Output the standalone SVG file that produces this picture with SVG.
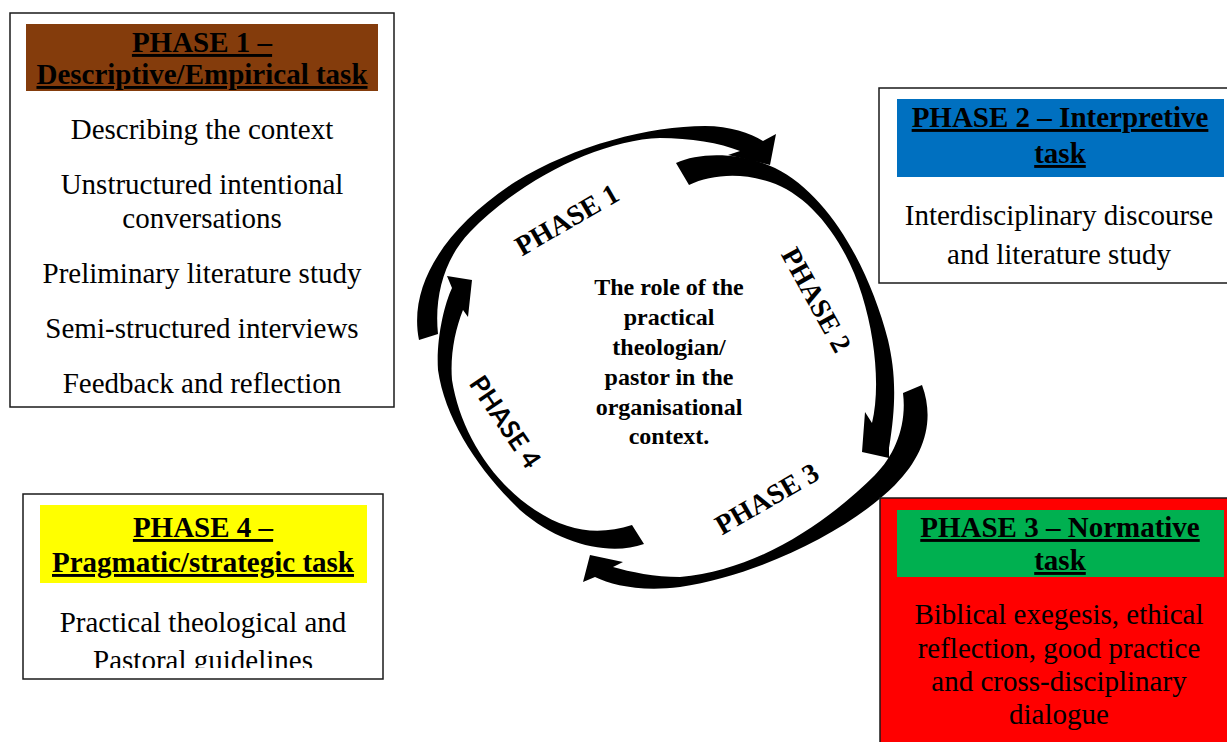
<svg xmlns="http://www.w3.org/2000/svg" width="1227" height="742" viewBox="0 0 1227 742">
  <style>
    .box { fill: #ffffff; stroke: #1a1a1a; stroke-width: 1.5; }
    .head { font-family: "Liberation Serif", "Times New Roman", serif; font-size: 29px; font-weight: bold; text-decoration: underline; fill: #000; text-anchor: middle; }
    .body { font-family: "Liberation Serif", "Times New Roman", serif; font-size: 29px; fill: #000; text-anchor: middle; }
    .center { font-family: "Liberation Serif", "Times New Roman", serif; font-size: 24px; font-weight: bold; fill: #000; text-anchor: middle; }
    .phase { font-family: "Liberation Serif", "Times New Roman", serif; font-size: 28px; font-weight: bold; fill: #000; text-anchor: middle; }
    .phase-sans { font-family: Lato, "Open Sans", sans-serif; font-size: 26px; font-weight: bold; fill: #000; text-anchor: middle; }
    .arrow { fill: #000; stroke: none; }
  </style>
  <defs>
    <clipPath id="clip-phase4">
      <rect x="23" y="494" width="361" height="174"/>
    </clipPath>
  </defs>

  <rect width="1227" height="742" fill="#ffffff"/>

  <!-- Curved arrows forming the cycle -->
  <g id="connectors">
    <path id="arrow-phase1" class="arrow" d="M 419 340 C 408 285, 445 228, 515 182 C 575 145, 650 126, 705 126 C 730 126, 750 133, 763 141 L 776 134 L 770 165 L 728 155 L 740 151 C 720 143, 690 138, 660 138 C 600 140, 520 180, 470 232 C 445 258, 434 295, 438 334 Z"/>
    <path id="arrow-phase2" class="arrow" d="M 676 163 C 700 152, 740 152, 775 168 C 830 195, 870 270, 888 340 C 895 370, 897 400, 889 448 L 889 458 L 862 452 L 865 412 L 872 423 C 880 390, 876 340, 862 295 C 845 240, 810 195, 770 182 C 740 172, 710 175, 689 185 Z"/>
    <path id="arrow-phase3" class="arrow" d="M 903 393 L 922 385 C 935 420, 925 455, 895 485 C 850 530, 760 575, 680 587 C 640 592, 612 585, 595 577 L 583 582 L 590 555 L 623 562 L 613 567 C 630 572, 655 577, 680 577 C 760 570, 830 520, 875 475 C 895 455, 907 425, 903 393 Z"/>
    <path id="arrow-phase4" class="arrow" d="M 632 525 L 644 544 C 610 556, 560 545, 520 510 C 480 472, 445 420, 438 370 C 436 340, 444 305, 452 288 L 447 276 L 472 280 L 468 317 L 463 310 C 455 330, 450 355, 452 380 C 460 430, 490 480, 535 510 C 570 533, 600 535, 632 525 Z"/>

    <text class="phase" transform="translate(567,220) rotate(-30)" x="0" y="9">PHASE 1</text>
    <text class="phase" transform="translate(816,300) rotate(61)" x="0" y="9">PHASE 2</text>
    <text class="phase" transform="translate(767,499) rotate(-30)" x="0" y="9">PHASE 3</text>
    <text class="phase-sans" transform="translate(505,422) rotate(56)" x="0" y="9">PHASE 4</text>
  </g>

  <!-- Centre of the cycle -->
  <g id="node-center">
    <text class="center" x="669" y="295">The role of the</text>
    <text class="center" x="669" y="325">practical</text>
    <text class="center" x="669" y="355">theologian/</text>
    <text class="center" x="669" y="385">pastor in the</text>
    <text class="center" x="669" y="415">organisational</text>
    <text class="center" x="669" y="444">context.</text>
  </g>

  <!-- Phase 1 -->
  <g id="node-phase1">
    <rect class="box" x="10" y="13" width="384" height="394"/>
    <rect x="26" y="24" width="352" height="67" fill="#843C0C"/>
    <text class="head" x="202" y="52">PHASE 1 –</text>
    <text class="head" x="202" y="84">Descriptive/Empirical task</text>
    <text class="body" x="202" y="139">Describing the context</text>
    <text class="body" x="202" y="194">Unstructured intentional</text>
    <text class="body" x="202" y="228">conversations</text>
    <text class="body" x="202" y="283">Preliminary literature study</text>
    <text class="body" x="202" y="338">Semi-structured interviews</text>
    <text class="body" x="202" y="393">Feedback and reflection</text>
  </g>

  <!-- Phase 2 -->
  <g id="node-phase2">
    <rect class="box" x="879" y="88" width="360" height="195"/>
    <rect x="897" y="99" width="327" height="78" fill="#0070C0"/>
    <text class="head" x="1060" y="127">PHASE 2 – Interpretive</text>
    <text class="head" x="1060" y="163">task</text>
    <text class="body" x="1059" y="225">Interdisciplinary discourse</text>
    <text class="body" x="1059" y="264">and literature study</text>
  </g>

  <!-- Phase 3 -->
  <g id="node-phase3">
    <rect x="880" y="498" width="360" height="260" fill="#FF0000" stroke="#1a1a1a" stroke-width="1.5"/>
    <rect x="897" y="510" width="327" height="67" fill="#00B050"/>
    <text class="head" x="1060" y="537">PHASE 3 – Normative</text>
    <text class="head" x="1060" y="570">task</text>
    <text class="body" x="1059" y="624">Biblical exegesis, ethical</text>
    <text class="body" x="1059" y="658">reflection, good practice</text>
    <text class="body" x="1059" y="691">and cross-disciplinary</text>
    <text class="body" x="1059" y="724">dialogue</text>
  </g>

  <!-- Phase 4 -->
  <g id="node-phase4">
    <rect class="box" x="23" y="494" width="360" height="185"/>
    <rect x="40" y="505" width="327" height="78" fill="#FFFF00"/>
    <text class="head" x="203" y="537">PHASE 4 –</text>
    <text class="head" x="203" y="572">Pragmatic/strategic task</text>
    <g clip-path="url(#clip-phase4)">
      <text class="body" x="203" y="632">Practical theological and</text>
      <text class="body" x="203" y="670">Pastoral guidelines</text>
    </g>
  </g>
</svg>
